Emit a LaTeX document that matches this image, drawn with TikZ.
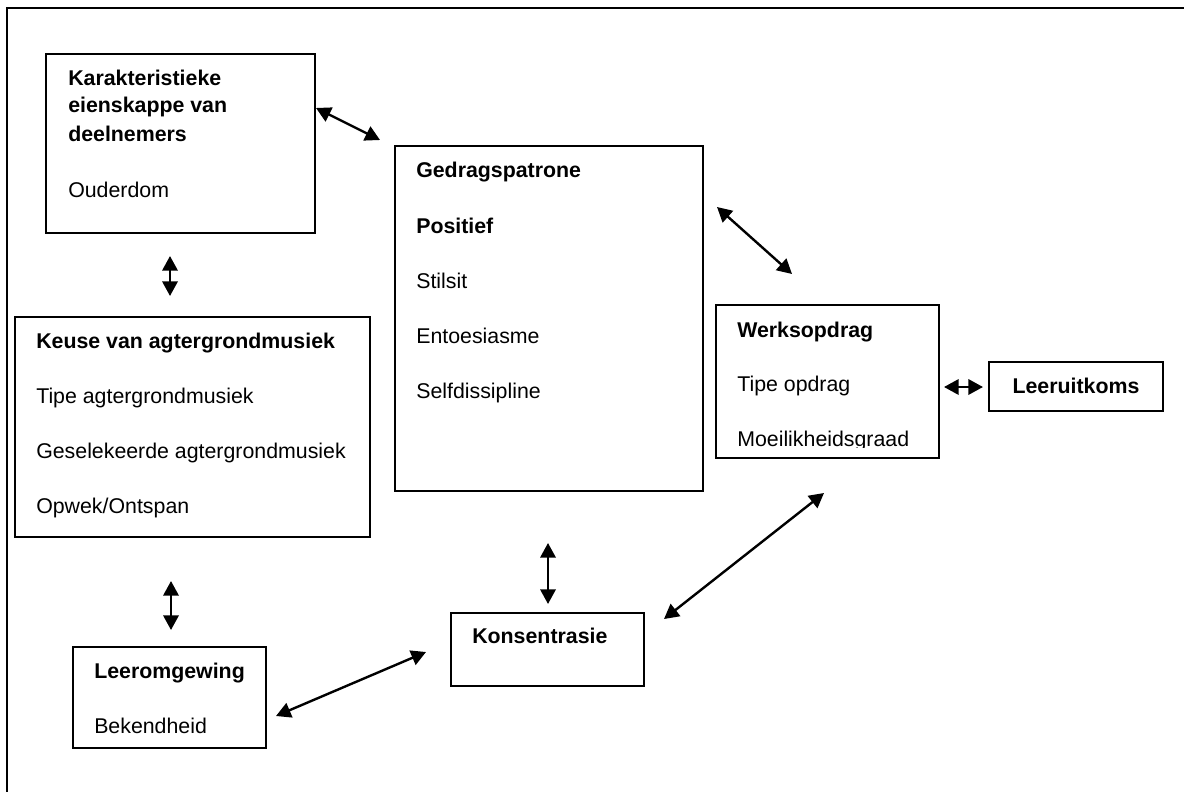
\documentclass[tikz,border=0pt]{standalone}
\usepackage{fontspec}
\setmainfont{Liberation Sans}
\usetikzlibrary{arrows.meta}
\begin{document}
\begin{tikzpicture}[x=0.75pt,y=-0.75pt,
  box/.style={draw=black, line width=1.2pt, rectangle, inner sep=0pt},
  txt/.style={anchor=base west, inner sep=0pt, font=\fontsize{16}{19}\selectfont},
  btxt/.style={txt, font=\fontsize{16}{19}\selectfont\bfseries},
  link/.style={line width=1.8pt, {Triangle[length=11pt,width=11.5pt]}-{Triangle[length=11pt,width=11.5pt]}},
  frame/.style={line width=1.7pt}]
\useasboundingbox (0,0) rectangle (1184,792);
% frame (top and left)
\coordinate (f1) at (1184,8);
\coordinate (f2) at (7,8);
\coordinate (f3) at (7,792);
\draw[frame] (f1) -- (f2) -- (f3);

% boxes
\node[box, minimum width={269*0.75pt}, minimum height={179*0.75pt}] (K) at (180.5,143.5) {};
\node[box, minimum width={308*0.75pt}, minimum height={345*0.75pt}] (G) at (549,318.5) {};
\node[box, minimum width={355*0.75pt}, minimum height={220*0.75pt}] (M) at (192.5,427) {};
\node[box, minimum width={193*0.75pt}, minimum height={101*0.75pt}] (L) at (169.5,697.5) {};
\node[box, minimum width={193*0.75pt}, minimum height={73*0.75pt}] (C) at (547.5,649.5) {};
\node[box, minimum width={223*0.75pt}, minimum height={153*0.75pt}] (W) at (827.5,381.5) {};
\node[box, minimum width={174*0.75pt}, minimum height={49*0.75pt}] (R) at (1076,386.5) {};

% texts
\node[btxt] (k1) at (68,85) {Karakteristieke};
\node[btxt] (k2) at (68,113) {eienskappe van};
\node[btxt] (k3) at (68,141) {deelnemers};
\node[txt] (k4) at (68,197) {Ouderdom};

\node[btxt] (g1) at (416,177) {Gedragspatrone};
\node[btxt] (g2) at (416,233) {Positief};
\node[txt] (g3) at (416,288) {Stilsit};
\node[txt] (g4) at (416,343) {Entoesiasme};
\node[txt] (g5) at (416,398) {Selfdissipline};

\node[btxt] (m1) at (36,348) {Keuse van agtergrondmusiek};
\node[txt] (m2) at (36,403) {Tipe agtergrondmusiek};
\node[txt] (m3) at (36,458) {Geselekeerde agtergrondmusiek};
\node[txt] (m4) at (36,513) {Opwek/Ontspan};

\node[btxt] (l1) at (94,678) {Leeromgewing};
\node[txt] (l2) at (94,733) {Bekendheid};

\node[btxt] (c1) at (472,643) {Konsentrasie};

\node[btxt] (w1) at (737,337) {Werksopdrag};
\node[txt] (w2) at (737,391) {Tipe opdrag};
\begin{scope}
\clip (716,305) rectangle (939,447.5);
\node[txt] (w3) at (737,446) {Moeilikheidsgraad};
\end{scope}

\node[btxt, anchor=base] (r1) at (1076,393) {Leeruitkoms};

% connector end points
\coordinate (a1) at (316,108);  \coordinate (b1) at (380,140);
\coordinate (a2) at (170,256);  \coordinate (b2) at (170,296);
\coordinate (a3) at (717,207);  \coordinate (b3) at (792,274);
\coordinate (a4) at (944,387);  \coordinate (b4) at (983,387);
\coordinate (a5) at (171,581);  \coordinate (b5) at (171,630);
\coordinate (a6) at (276,716);  \coordinate (b6) at (426,652);
\coordinate (a7) at (548,543);  \coordinate (b7) at (548,604);
\coordinate (a8) at (664,619);  \coordinate (b8) at (824,493);

\draw[link] (a1) -- (b1);
\draw[link] (a2) -- (b2);
\draw[link] (a3) -- (b3);
\draw[link] (a4) -- (b4);
\draw[link] (a5) -- (b5);
\draw[link] (a6) -- (b6);
\draw[link] (a7) -- (b7);
\draw[link] (a8) -- (b8);
\end{tikzpicture}
\end{document}
